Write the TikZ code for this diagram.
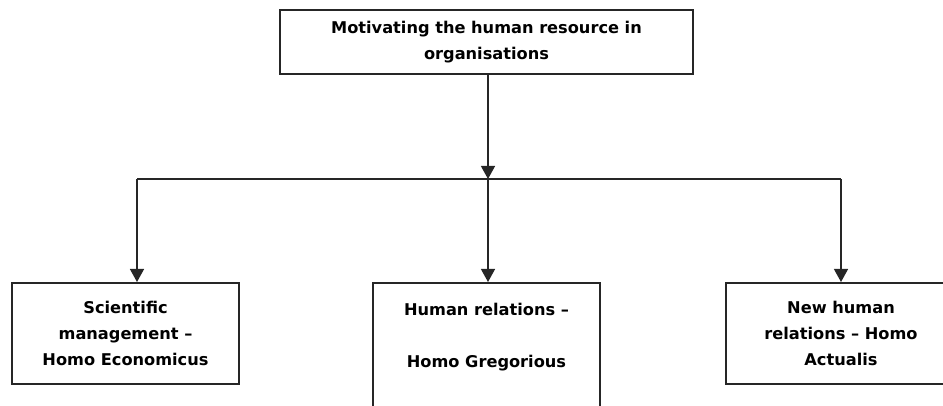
\documentclass[tikz,border=0pt]{standalone}
\usepackage{fontspec}
\setmainfont{DejaVu Sans}
\usetikzlibrary{arrows.meta}
\tikzset{
  box/.style={draw=black!85, line width=1.6pt, rectangle, inner sep=0pt, align=center,
    font=\bfseries\fontsize{16.2}{26}\selectfont},
  conn/.style={draw=black!85, line width=1.3pt},
  arr/.style={conn, -{Triangle[width=14pt,length=13pt]}}
}
\begin{document}
\begin{tikzpicture}[x=1pt,y=-1pt]
\useasboundingbox (0,0) rectangle (943,406);
\clip (0,0) rectangle (943,406);
\node[box, minimum width=413pt, minimum height=64pt] (top) at (486.5,42)
  {Motivating the human resource in\\organisations};
\node[box, minimum width=227pt, minimum height=101pt, anchor=north] (left) at (125.5,282)
  {Scientific\\management –\\Homo Economicus};
\node[box, minimum width=227pt, minimum height=216pt, anchor=north] (mid) at (486.5,282)
  {Human relations –\\\strut\\Homo Gregorious\\\strut\\\strut\\\strut\\\strut};
\node[box, minimum width=230pt, minimum height=101pt, anchor=north] (right) at (841,282)
  {New human\\relations – Homo\\Actualis};
\coordinate (jc) at (488,179);
\coordinate (jl) at (137,179);
\coordinate (jr) at (841,179);
\draw[arr] (top.south -| jc) -- (jc);
\draw[conn] (jl) -- (jr);
\draw[arr] (jl) -- (jl |- left.north);
\draw[arr] (jc) -- (jc |- mid.north);
\draw[arr] (jr) -- (jr |- right.north);
\end{tikzpicture}
\end{document}
